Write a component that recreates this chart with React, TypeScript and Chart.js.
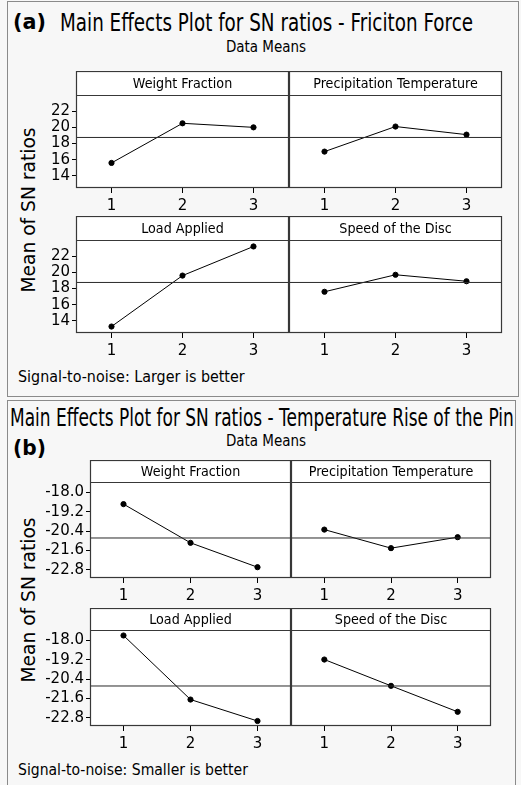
import React, { useEffect, useLayoutEffect, useRef } from "react";
import { Chart, registerables } from "chart.js";

Chart.register(...registerables);

const FONT = "'DejaVu Sans', sans-serif";

// ----- data -----
const LEVELS = [1, 2, 3];
const FACTORS = ["Weight Fraction", "Precipitation Temperature", "Load Applied", "Speed of the Disc"];

// (a) Friction force, SN ratios (larger is better)
const FRICTION_WF = [15.6, 20.5, 20.0];
const FRICTION_PT = [17.0, 20.1, 19.1];
const FRICTION_LA = [13.3, 19.6, 23.2];
const FRICTION_SD = [17.6, 19.7, 18.9];
const FRICTION_TICKS = [14, 16, 18, 20, 22];
const FRICTION_MEAN = 18.75;

// (b) Temperature rise of the pin, SN ratios (smaller is better)
const TEMP_WF = [-18.72, -21.12, -22.63];
const TEMP_PT = [-20.3, -21.45, -20.77];
const TEMP_LA = [-17.69, -21.66, -22.99];
const TEMP_SD = [-19.18, -20.81, -22.42];
const TEMP_TICKS = [-22.8, -21.6, -20.4, -19.2, -18.0];
const TEMP_MEAN = -20.82;

type SubProps = {
  title: string;
  values: number[];
  mean: number;
  ticks: number[];
  decimals: number;
  yMin: number;
  yMax: number;
  plotLeft: number;
  plotTop: number;
  plotW: number;
  plotH: number;
  headerH: number;
  yAxisW: number;
  xAxisH: number;
  showY: boolean;
};

const framePlugin = {
  id: "frame",
  beforeDatasetsDraw(chart: any, _args: any, opts: any) {
    const { ctx, chartArea } = chart;
    const { left, right, top, bottom } = chartArea;
    ctx.save();
    ctx.fillStyle = "#ffffff";
    ctx.fillRect(left, top, right - left, bottom - top);
    ctx.fillRect(left, top - opts.headerH, right - left, opts.headerH);
    ctx.restore();
  },
  afterDraw(chart: any, _args: any, opts: any) {
    const { ctx, chartArea } = chart;
    const { left, right, top, bottom } = chartArea;
    ctx.save();
    ctx.strokeStyle = "#383838";
    ctx.lineWidth = 1.2;
    ctx.strokeRect(left + 0.5, top - opts.headerH + 0.5, right - left - 1, bottom - top + opts.headerH - 1);
    ctx.beginPath();
    ctx.moveTo(left, top + 0.5);
    ctx.lineTo(right, top + 0.5);
    ctx.stroke();
    ctx.fillStyle = "#000";
    ctx.font = `14.5px ${FONT}`;
    ctx.textAlign = "center";
    ctx.textBaseline = "middle";
    ctx.translate((left + right) / 2, top - opts.headerH / 2 + 1);
    ctx.scale(0.88, 1);
    ctx.fillText(opts.text, 0, 0);
    ctx.restore();
  },
};

function SubPlot(p: SubProps) {
  const ref = useRef<HTMLCanvasElement>(null);
  const width = p.yAxisW + p.plotW + 1;
  const height = p.headerH + p.plotH + p.xAxisH;
  useEffect(() => {
    if (!ref.current) return;
    const chart = new Chart(ref.current, {
      type: "line",
      data: {
        datasets: [
          {
            data: [
              { x: 0.5, y: p.mean },
              { x: 3.5, y: p.mean },
            ],
            borderColor: "#2a2a2a",
            borderWidth: 1,
            pointRadius: 0,
          },
          {
            data: LEVELS.map((x, i) => ({ x, y: p.values[i] })),
            borderColor: "#000",
            borderWidth: 1,
            pointRadius: 2.6,
            pointBackgroundColor: "#000",
            pointBorderColor: "#000",
          },
        ],
      },
      plugins: [framePlugin],
      options: {
        animation: false,
        responsive: false,
        maintainAspectRatio: false,
        devicePixelRatio: 1,
        layout: { autoPadding: false, padding: { top: p.headerH, left: 0, right: 1, bottom: 0 } },
        plugins: {
          legend: { display: false },
          tooltip: { enabled: false },
          frame: { text: p.title, headerH: p.headerH },
        } as any,
        scales: {
          x: {
            type: "linear",
            min: 0.5,
            max: 3.5,
            afterBuildTicks: (s: any) => {
              s.ticks = LEVELS.map((v) => ({ value: v }));
            },
            afterFit: (s: any) => {
              s.height = p.xAxisH;
              s.paddingLeft = 0;
              s.paddingRight = 0;
            },
            grid: { display: true, drawOnChartArea: false, drawTicks: true, tickLength: 5, color: "#000", lineWidth: 1 },
            border: { display: false },
            ticks: {
              color: "#000",
              font: { family: FONT, size: 15 },
              padding: 4,
              maxRotation: 0,
              autoSkip: false,
              callback: (v: any) => String(v),
            },
          },
          y: {
            type: "linear",
            min: p.yMin,
            max: p.yMax,
            display: true,
            afterBuildTicks: (s: any) => {
              s.ticks = p.ticks.map((v) => ({ value: v }));
            },
            afterFit: (s: any) => {
              s.width = p.yAxisW;
              s.paddingTop = 0;
              s.paddingBottom = 0;
            },
            grid: {
              display: p.showY,
              drawOnChartArea: false,
              drawTicks: true,
              tickLength: 4,
              color: "#000",
              lineWidth: 1,
            },
            border: { display: false },
            ticks: {
              display: p.showY,
              color: "#000",
              font: { family: FONT, size: 15 },
              padding: 2,
              autoSkip: false,
              callback: (v: any) => Number(v).toFixed(p.decimals),
            },
          },
        },
      } as any,
    });
    return () => chart.destroy();
  }, []);
  return (
    <canvas
      ref={ref}
      width={width}
      height={height}
      style={{
        position: "absolute",
        left: p.plotLeft - p.yAxisW,
        top: p.plotTop - p.headerH,
        width,
        height,
      }}
    />
  );
}

type FitProps = {
  text: string;
  x: number;
  y: number;
  width: number;
  size: number;
  center?: boolean;
  bold?: boolean;
  rotate?: boolean;
};

function FitText(p: FitProps) {
  const inner = useRef<HTMLSpanElement>(null);
  useLayoutEffect(() => {
    const el = inner.current;
    if (!el) return;
    const natural = el.offsetWidth;
    if (natural > 0) el.style.transform = `scaleX(${p.width / natural})`;
  }, []);
  const tx = p.center || p.rotate ? "-50%" : "0";
  return (
    <div
      style={{
        position: "absolute",
        left: p.x,
        top: p.y,
        whiteSpace: "nowrap",
        lineHeight: 1,
        fontFamily: FONT,
        fontSize: p.size,
        fontWeight: p.bold ? "bold" : "normal",
        color: "#000",
        transform: `translate(${tx}, -50%)${p.rotate ? " rotate(-90deg)" : ""}`,
      }}
    >
      <span
        ref={inner}
        style={{
          display: "inline-block",
          transformOrigin: p.center || p.rotate ? "center" : "left",
        }}
      >
        {p.text}
      </span>
    </div>
  );
}

type PanelCfg = {
  series: number[][];
  mean: number;
  ticks: number[];
  decimals: number;
  yMin: number;
  yMax: number;
  cols: [number, number, number];
  rows: [number, number];
  plotH: number;
  headerH: number;
  yAxisW: number;
};

function Panel(c: PanelCfg) {
  return (
    <>
      {c.series.map((vals, i) => {
        const col = i % 2;
        const row = Math.floor(i / 2);
        return (
          <SubPlot
            key={i}
            title={FACTORS[i]}
            values={vals}
            mean={c.mean}
            ticks={c.ticks}
            decimals={c.decimals}
            yMin={c.yMin}
            yMax={c.yMax}
            plotLeft={c.cols[col]}
            plotTop={c.rows[row]}
            plotW={c.cols[col + 1] - c.cols[col]}
            plotH={c.plotH}
            headerH={c.headerH}
            yAxisW={col === 0 ? c.yAxisW : 12}
            xAxisH={28}
            showY={col === 0}
          />
        );
      })}
    </>
  );
}

export default function App() {
  return (
    <div
      style={{
        position: "absolute",
        left: 0,
        top: 0,
        width: 521,
        height: 785,
        background: "#f7f7f7",
        overflow: "hidden",
      }}
    >
      {/* panel (a) */}
      <div style={{ position: "absolute", left: 7, top: 1, width: 510, height: 394, border: "1px solid #8a8a8a" }} />
      <FitText text="(a)" x={13} y={22} width={33} size={22} bold />
      <FitText text="Main Effects Plot for SN ratios - Friciton Force" x={60} y={22} width={413} size={25} />
      <FitText text="Data Means" x={266} y={47} width={80} size={16} center />
      <FitText text="Mean of SN ratios" x={28} y={210} width={165} size={19} rotate />
      <FitText text="Signal-to-noise: Larger is better" x={18} y={377} width={227} size={16} />
      <Panel
        series={[FRICTION_WF, FRICTION_PT, FRICTION_LA, FRICTION_SD]}
        mean={FRICTION_MEAN}
        ticks={FRICTION_TICKS}
        decimals={0}
        yMin={12.5}
        yMax={24}
        cols={[76, 289, 502]}
        rows={[95, 240]}
        plotH={93}
        headerH={24}
        yAxisW={36}
      />

      {/* panel (b) */}
      <div style={{ position: "absolute", left: 7, top: 400, width: 507, height: 390, border: "1px solid #8a8a8a" }} />
      <FitText text="Main Effects Plot for SN ratios - Temperature Rise of the Pin" x={10} y={418} width={504} size={24} />
      <FitText text="(b)" x={13} y={448} width={33} size={22} bold />
      <FitText text="Data Means" x={266} y={441} width={80} size={16} center />
      <FitText text="Mean of SN ratios" x={28} y={600} width={165} size={19} rotate />
      <FitText text="Signal-to-noise: Smaller is better" x={18} y={770} width={230} size={16} />
      <Panel
        series={[TEMP_WF, TEMP_PT, TEMP_LA, TEMP_SD]}
        mean={TEMP_MEAN}
        ticks={TEMP_TICKS}
        decimals={1}
        yMin={-23.3}
        yMax={-17.35}
        cols={[90, 291, 491]}
        rows={[481.5, 629.5]}
        plotH={96.5}
        headerH={22}
        yAxisW={50}
      />
    </div>
  );
}
